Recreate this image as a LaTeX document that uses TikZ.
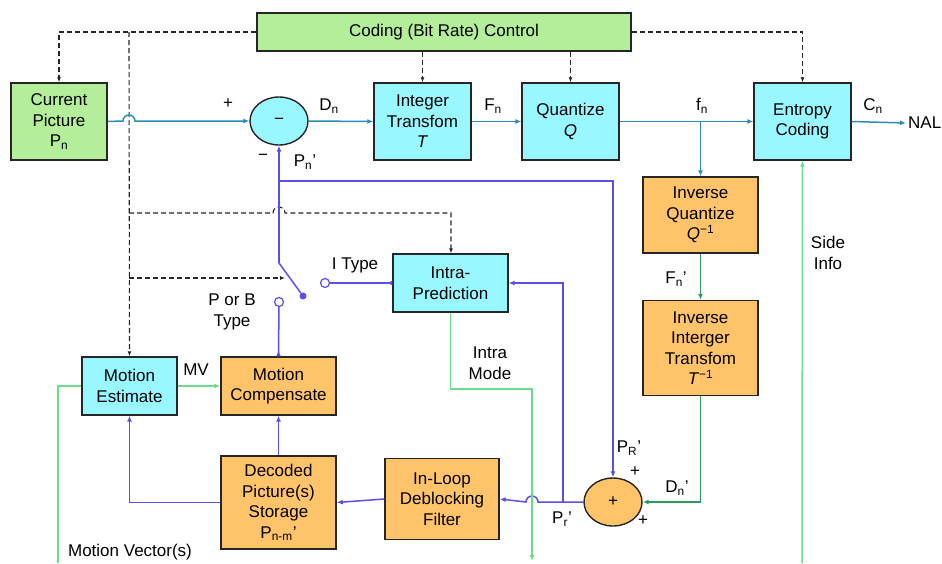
\documentclass[tikz,border=0pt]{standalone}
\usepackage{fontspec}
\setmainfont{Liberation Sans}
\usetikzlibrary{arrows.meta,shapes.geometric}
\definecolor{cyanfill}{HTML}{99F8FF}
\definecolor{orgfill}{HTML}{FFC46A}
\definecolor{grnfill}{HTML}{B4EE9A}
\definecolor{tealline}{HTML}{2A8CB8}
\definecolor{blueline}{HTML}{5A50E6}
\definecolor{greenline}{HTML}{6ADC8C}
\definecolor{dkgreen}{HTML}{2A9A5E}

\begin{document}
\begin{tikzpicture}[x=1pt, y=-1pt,
    font=\fontsize{17}{20.5}\selectfont,
    tip/.style={-{Latex[length=6pt,width=5pt]}},
    rtip/.style={-{Latex[length=6pt,width=5pt,reversed]}},
    box/.style={draw=black!85, line width=1.4pt, align=center, inner sep=0pt},
    cyanbox/.style={box, fill=cyanfill},
    orgbox/.style={box, fill=orgfill},
    grnbox/.style={box, fill=grnfill},
    sumnode/.style={ellipse, draw=black!85, line width=1.4pt, minimum width=58pt, minimum height=48pt, inner sep=0pt},
    ctl/.style={black!85, line width=1.1pt, dash pattern=on 5pt off 3pt},
    tline/.style={tealline, line width=1.5pt},
    bline/.style={blueline, line width=1.5pt},
    gline/.style={greenline, line width=1.5pt},
    dgline/.style={dkgreen, line width=1.5pt},
    contact/.style={circle, draw=blueline, line width=1.2pt, fill=white, minimum size=9pt, inner sep=0pt}]
    \useasboundingbox (0,0) rectangle (942,563);

    % Blocks of the encoder
    \node[grnbox, minimum width=374pt, minimum height=38pt] (ctrl) at (444,32) {Coding (Bit Rate) Control};
    \node[grnbox, minimum width=96pt, minimum height=77pt] (cur) at (59,121.5) {Current\\Picture\\P\textsubscript{n}};
    \node[sumnode, fill=cyanfill] (sub) at (279,121) {\textminus};
    \node[cyanbox, minimum width=97pt, minimum height=77pt] (itr) at (422.5,121.5) {Integer\\Transfom\\\textit{T}};
    \node[cyanbox, minimum width=97pt, minimum height=77pt] (quant) at (570.5,121.5) {Quantize\\\textit{Q}};
    \node[cyanbox, minimum width=97pt, minimum height=77pt] (ent) at (802.5,121.5) {Entropy\\Coding};
    \node[anchor=west, inner sep=2pt] (nal) at (906,123) {NAL};
    \node[orgbox, minimum width=115pt, minimum height=76pt] (iquant) at (700.5,215) {Inverse\\Quantize\\\textit{Q}\textsuperscript{−1}};
    \node[orgbox, minimum width=115pt, minimum height=95pt] (itrans) at (700.5,348) {Inverse\\Interger\\Transfom\\\textit{T}\textsuperscript{−1}};
    \node[cyanbox, minimum width=115pt, minimum height=58pt] (intra) at (450.5,283) {Intra-\\Prediction};
    \node[cyanbox, minimum width=95pt, minimum height=58pt] (mest) at (129.5,386) {Motion\\Estimate};
    \node[orgbox, minimum width=115pt, minimum height=58pt] (mcomp) at (278.5,386) {Motion\\Compensate};
    \node[orgbox, minimum width=115pt, minimum height=93pt] (store) at (278.5,502.5) {Decoded\\Picture(s)\\Storage\\P\textsubscript{n-m}'};
    \node[orgbox, minimum width=114pt, minimum height=81pt] (dblk) at (442,499) {In-Loop\\Deblocking\\Filter};
    \node[sumnode, fill=orgfill] (add) at (613,502) {+};

    % Control lines
    \draw[ctl, -{Latex[length=5pt,width=4pt]}] (ctrl.west) -| (cur.north);
    \draw[ctl, -{Latex[length=5pt,width=4pt]}] (ctrl.east) -| (ent.north);
    \draw[ctl, -{Latex[length=5pt,width=4pt]}] (itr.north |- ctrl.south) -- (itr.north);
    \draw[ctl, -{Latex[length=5pt,width=4pt]}] (quant.north |- ctrl.south) -- (quant.north);
    \coordinate (mtop) at (129,32);
    \draw[ctl, -{Latex[length=5pt,width=4pt]}] (mtop) -- (mest.north);
    \coordinate (itop) at (129,213);
    \draw[ctl, -{Latex[length=5pt,width=4pt]}] (itop) -- (273,213) arc[start angle=180, end angle=360, radius=6] -- (451,213) -- (intra.north -| 451,0);
    \coordinate (stop) at (129,278);
    \coordinate (sarm) at (285,278);
    \draw[ctl, -{Latex[length=5pt,width=4pt]}] (stop) -- (sarm);

    % Forward path
    \draw[tline, tip] (cur.east) -- (123,121) arc[start angle=180, end angle=360, radius=6] -- (sub.west);
    \draw[tline, tip] (sub.east) -- (itr.west);
    \draw[tline, tip] (itr.east) -- (quant.west);
    \draw[tline, tip] (quant.east) -- (ent.west);
    \draw[tline, tip] (ent.east) -- (nal.west);
    \coordinate (fsplit) at (700.5,121);
    \draw[tline, tip] (fsplit) -- (iquant.north);

    % Reconstruction path
    \draw[dgline, tip] (iquant.south) -- (itrans.north);
    \draw[dgline, tip] (itrans.south) |- (add.east);
    \coordinate (pr) at (563,502);
    \draw[bline, tip] (add.west) -- (538,502) arc[start angle=0, end angle=-180, radius=6] -- (dblk.east);
    \draw[bline, tip] (pr) |- (intra.east);
    \draw[bline, tip] (dblk.west) -- (store.east);
    \draw[bline, tip] (store.north) -- (mcomp.south);
    \draw[bline, tip] (store.west) -| (mest.south);

    % Prediction switch
    \coordinate (sw) at (279,263);
    \coordinate (pfork) at (279,181);
    \draw[bline, tip] (sw) -- (sub.south);
    \draw[bline, tip] (pfork) -| (add.north);
    \node[circle, fill=blueline, minimum size=7pt, inner sep=0pt] (arm) at (303,296) {};
    \draw[bline] (sw) -- (arm);
    \node[contact] (itype) at (325,283) {};
    \node[contact] (pbtype) at (279,302) {};
    \draw[bline, rtip] (itype) -- (intra.west);
    \draw[bline, rtip] (pbtype) -- (mcomp.north);

    % Side information
    \draw[gline, tip] (mest.east) -- (mcomp.west);
    \coordinate (mvout) at (58,563);
    \draw[gline] (mest.west) -| (mvout);
    \coordinate (modeout) at (532,561);
    \draw[gline, tip] (intra.south) |- (532,389) -- (modeout);
    \coordinate (sideout) at (802,563);
    \draw[gline, tip] (sideout) -- (ent.south);

    % Labels
    \node (lplus) at (228,104) {+};
    \node (lminus) at (263,157) {\textminus};
    \node (ldn) at (329,106) {D\textsubscript{n}};
    \node (lpn) at (305,162) {P\textsubscript{n}'};
    \node (lfn) at (493,106) {F\textsubscript{n}};
    \node (lsfn) at (702,106) {f\textsubscript{n}};
    \node (lcn) at (873,106) {C\textsubscript{n}};
    \node[align=center] (lside) at (828,253) {Side\\Info};
    \node (lfnp) at (676,279) {F\textsubscript{n}'};
    \node (litype) at (355,265) {I Type};
    \node[align=center] (lpb) at (232,312) {P or B\\Type};
    \node[align=center] (lmode) at (490,363) {Intra\\Mode};
    \node (lmv) at (196,370) {MV};
    \node (lmvs) at (130,552) {Motion Vector(s)};
    \node (lpr) at (629,448) {P\textsubscript{R}'};
    \node (laddt) at (635,472) {+};
    \node (laddb) at (643,521) {+};
    \node (ldnp) at (677,488) {D\textsubscript{n}'};
    \node (lprp) at (562,519) {P\textsubscript{r}'};
\end{tikzpicture}
\end{document}
